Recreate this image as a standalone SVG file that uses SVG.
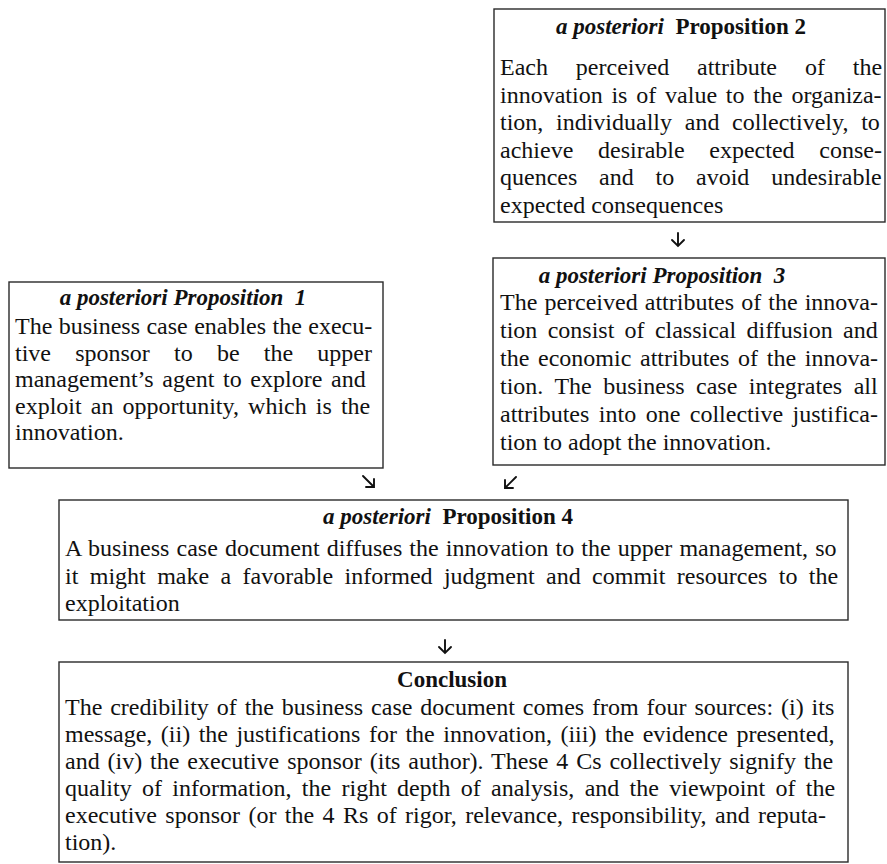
<svg xmlns="http://www.w3.org/2000/svg" width="887" height="864" viewBox="0 0 887 864">
  <style>
    .box { fill: #ffffff; stroke: #2a2a2a; stroke-width: 1.4; }
    text { font-family: "Liberation Serif", "Times New Roman", serif; fill: #111111; }
    .body { font-size: 24px; }
    .head { font-size: 23px; font-weight: bold; }
    .bi { font-style: italic; }
    .arrow { fill: none; stroke: #111111; stroke-width: 1.9; stroke-linecap: round; stroke-linejoin: miter; }
  </style>
  <rect width="887" height="864" fill="#ffffff"/>

  <!-- Proposition 2 (justified lines use word-spacing) -->
  <g id="prop2">
    <rect class="box" x="494" y="9" width="391" height="213"/>
    <text class="head" x="681" y="34" text-anchor="middle" xml:space="preserve"><tspan class="bi">a posteriori</tspan>  Proposition 2</text>
    <text class="body" x="500" y="75" style="word-spacing:21.9px">Each perceived attribute of the</text>
    <text class="body" x="500" y="102.5" style="word-spacing:2.8px">innovation is of value to the organiza-</text>
    <text class="body" x="500" y="130" style="word-spacing:6.7px">tion, individually and collectively, to</text>
    <text class="body" x="500" y="157.5" style="word-spacing:18.7px">achieve desirable expected conse-</text>
    <text class="body" x="500" y="185" style="word-spacing:15.8px">quences and to avoid undesirable</text>
    <text class="body" x="500" y="212.5">expected consequences</text>
  </g>

  <!-- Proposition 1 -->
  <g id="prop1">
    <rect class="box" x="9" y="282" width="374" height="186"/>
    <text class="head bi" x="183" y="305" text-anchor="middle" xml:space="preserve">a posteriori Proposition  1</text>
    <text class="body" x="15" y="334" style="word-spacing:0.4px">The business case enables the execu-</text>
    <text class="body" x="15" y="360.5" style="word-spacing:18.2px">tive sponsor to be the upper</text>
    <text class="body" x="15" y="387" style="word-spacing:2.7px">management’s agent to explore and</text>
    <text class="body" x="15" y="413.5" style="word-spacing:3.1px">exploit an opportunity, which is the</text>
    <text class="body" x="15" y="440">innovation.</text>
  </g>

  <!-- Proposition 3 -->
  <g id="prop3">
    <rect class="box" x="493" y="258" width="392" height="207"/>
    <text class="head bi" x="662" y="283" text-anchor="middle" xml:space="preserve">a posteriori Proposition  3</text>
    <text class="body" x="500" y="310" style="word-spacing:1.1px">The perceived attributes of the innova-</text>
    <text class="body" x="500" y="338" style="word-spacing:4.3px">tion consist of classical diffusion and</text>
    <text class="body" x="500" y="366" style="word-spacing:2.7px">the economic attributes of the innova-</text>
    <text class="body" x="500" y="394" style="word-spacing:5.5px">tion. The business case integrates all</text>
    <text class="body" x="500" y="422" style="word-spacing:3.5px">attributes into one collective justifica-</text>
    <text class="body" x="500" y="450">tion to adopt the innovation.</text>
  </g>

  <!-- Proposition 4 -->
  <g id="prop4">
    <rect class="box" x="59" y="500" width="789" height="120"/>
    <text class="head" x="448" y="524" text-anchor="middle" xml:space="preserve"><tspan class="bi">a posteriori</tspan>  Proposition 4</text>
    <text class="body" x="65" y="556" style="word-spacing:1.1px">A business case document diffuses the innovation to the upper management, so</text>
    <text class="body" x="65" y="583.5" style="word-spacing:5.4px">it might make a favorable informed judgment and commit resources to the</text>
    <text class="body" x="65" y="611">exploitation</text>
  </g>

  <!-- Conclusion -->
  <g id="conclusion">
    <rect class="box" x="59" y="662" width="789" height="200"/>
    <text class="head" x="452" y="687" text-anchor="middle">Conclusion</text>
    <text class="body" x="65" y="715" style="word-spacing:1.9px">The credibility of the business case document comes from four sources: (i) its</text>
    <text class="body" x="65" y="742" style="word-spacing:2.5px">message, (ii) the justifications for the innovation, (iii) the evidence presented,</text>
    <text class="body" x="65" y="769" style="word-spacing:1.9px">and (iv) the executive sponsor (its author). These 4 Cs collectively signify the</text>
    <text class="body" x="65" y="796" style="word-spacing:4.3px">quality of information, the right depth of analysis, and the viewpoint of the</text>
    <text class="body" x="65" y="823" style="word-spacing:2.4px">executive sponsor (or the 4 Rs of rigor, relevance, responsibility, and reputa-</text>
    <text class="body" x="65" y="850">tion).</text>
  </g>

  <!-- Connectors -->
  <g id="connectors">
    <!-- 2 to 3 -->
    <path class="arrow" d="M678 233 V246 M672 240 L678 246 L684 240"/>
    <!-- 1 to 4 -->
    <path class="arrow" d="M363 476 L374 487 M374 479 V487 H366"/>
    <!-- 3 to 4 -->
    <path class="arrow" d="M516 477 L505 488 M505 480 V488 H513"/>
    <!-- 4 to conclusion -->
    <path class="arrow" d="M445 640 V653 M439 647 L445 653 L451 647"/>
  </g>
</svg>
